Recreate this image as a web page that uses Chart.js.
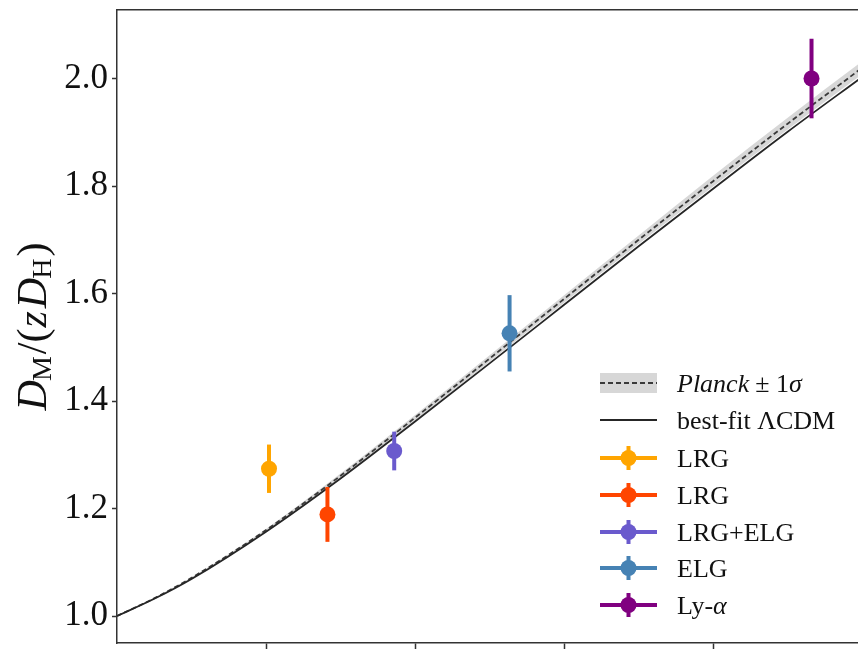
<!DOCTYPE html>
<html>
<head>
<meta charset="utf-8">
<script src="https://cdn.jsdelivr.net/npm/chart.js@4.4.1/dist/chart.umd.min.js"></script>
<style>
  html, body { margin: 0; padding: 0; overflow: hidden; background: #fff; }
  #wrap { width: 900px; height: 658px; }
</style>
</head>
<body>
<div id="wrap"><canvas id="c" width="900" height="658"></canvas></div>
<script>
// model curves
const zGrid = [0, 0.125, 0.25, 0.5, 0.75, 1.0, 1.25, 1.5, 1.75, 2.0, 2.25, 2.5];
const planckMean = [1.000, 1.033, 1.071, 1.160, 1.261, 1.369, 1.479, 1.590, 1.700, 1.809, 1.916, 2.020];
const planckLow  = [1.000, 1.032, 1.070, 1.158, 1.257, 1.364, 1.473, 1.583, 1.692, 1.799, 1.905, 2.008];
const planckHigh = [1.000, 1.034, 1.072, 1.162, 1.265, 1.374, 1.485, 1.597, 1.708, 1.819, 1.927, 2.032];
const bestFit    = [1.000, 1.032, 1.069, 1.157, 1.256, 1.362, 1.470, 1.579, 1.688, 1.795, 1.901, 2.003];

// measurements
const sampleNames  = ['LRG', 'LRG', 'LRG+ELG', 'ELG', 'Ly-α'];
const sampleZ      = [0.51, 0.706, 0.93, 1.317, 2.33];
const sampleVal    = [1.274, 1.189, 1.307, 1.526, 2.000];
const sampleErr    = [0.045, 0.051, 0.036, 0.071, 0.074];
const sampleColors = ['#FFA500', '#FF4500', '#6A5ACD', '#4682B4', '#800080'];

const yTicks = [1.0, 1.2, 1.4, 1.6, 1.8, 2.0];
const xTicks = [0.5, 1.0, 1.5, 2.0];

const FONT = "'Liberation Serif', 'DejaVu Serif', serif";
const AXIS = '#333';

function curve(vals) {
  return zGrid.map((z, i) => ({ x: z, y: vals[i] }));
}

const datasets = [];

// markers on top, then error bars
datasets.push({
  type: 'scatter',
  data: sampleZ.map((z, i) => ({ x: z, y: sampleVal[i] })),
  pointRadius: 8,
  pointHoverRadius: 8,
  pointBackgroundColor: sampleColors,
  pointBorderWidth: 0,
  showLine: false
});
sampleZ.forEach((z, i) => {
  datasets.push({
    type: 'line',
    data: [{ x: z, y: sampleVal[i] - sampleErr[i] }, { x: z, y: sampleVal[i] + sampleErr[i] }],
    borderColor: sampleColors[i],
    borderWidth: 4,
    pointRadius: 0,
    borderCapStyle: 'butt',
    fill: false
  });
});

const curveStyle = { pointRadius: 0, cubicInterpolationMode: 'monotone', fill: false };
datasets.push(Object.assign({
  type: 'line',
  data: curve(bestFit),
  borderColor: '#262626',
  borderWidth: 1.8
}, curveStyle));
datasets.push(Object.assign({
  type: 'line',
  data: curve(planckMean),
  borderColor: '#3a3a3a',
  borderWidth: 1.8,
  borderDash: [5, 3]
}, curveStyle));
datasets.push(Object.assign({
  type: 'line',
  data: curve(planckLow),
  borderWidth: 0,
  borderColor: 'rgba(0,0,0,0)'
}, curveStyle));
datasets.push(Object.assign({}, curveStyle, {
  type: 'line',
  data: curve(planckHigh),
  borderWidth: 0,
  borderColor: 'rgba(0,0,0,0)',
  backgroundColor: 'rgba(150,150,150,0.38)',
  fill: '-1'
}));

// draw pieces of text with mixed styles, returns total width
function drawRuns(ctx, runs, x, y, measureOnly) {
  let w = 0;
  runs.forEach(r => {
    ctx.font = (r.italic ? 'italic ' : '') + r.size + 'px ' + FONT;
    if (!measureOnly) ctx.fillText(r.t, x + w, y + (r.dy || 0));
    w += ctx.measureText(r.t).width + (r.gap || 0);
  });
  return w;
}

const decorations = {
  id: 'decorations',
  afterDraw(chart) {
    const ctx = chart.ctx;
    ctx.save();
    ctx.fillStyle = '#111';
    ctx.textBaseline = 'alphabetic';
    ctx.textAlign = 'left';

    // y axis title
    const a = chart.chartArea;
    const S = 42, s = 28;
    const title = [
      { t: 'D', italic: true, size: S, gap: -1 },
      { t: 'M', size: s, dy: 5, gap: 2 },
      { t: '/(', size: S, gap: 1 },
      { t: 'z', italic: true, size: S, gap: 3 },
      { t: 'D', italic: true, size: S, gap: -1 },
      { t: 'H', size: s, dy: 5, gap: 2 },
      { t: ')', size: S }
    ];
    ctx.save();
    ctx.translate(46, (a.top + a.bottom) / 2);
    ctx.rotate(-Math.PI / 2);
    const tw = drawRuns(ctx, title, 0, 0, true);
    drawRuns(ctx, title, -tw / 2, 0, false);
    ctx.restore();

    // legend
    const hx0 = 600, hx1 = 657, tx = 677, fs = 26;
    const rows = [383, 420, 458, 495, 532, 568, 605];
    // Planck band
    ctx.fillStyle = 'rgba(150,150,150,0.38)';
    ctx.fillRect(hx0, rows[0] - 10, hx1 - hx0, 20);
    ctx.strokeStyle = '#3a3a3a';
    ctx.lineWidth = 2;
    ctx.setLineDash([5, 3]);
    ctx.beginPath(); ctx.moveTo(hx0, rows[0]); ctx.lineTo(hx1, rows[0]); ctx.stroke();
    ctx.setLineDash([]);
    ctx.strokeStyle = '#262626';
    ctx.beginPath(); ctx.moveTo(hx0, rows[1]); ctx.lineTo(hx1, rows[1]); ctx.stroke();

    ctx.fillStyle = '#111';
    drawRuns(ctx, [
      { t: 'Planck', italic: true, size: fs, gap: 6 },
      { t: '± 1', size: fs },
      { t: 'σ', italic: true, size: fs }
    ], tx, rows[0] + 9);
    drawRuns(ctx, [{ t: 'best-fit ΛCDM', size: fs }], tx, rows[1] + 9);

    const mx = (hx0 + hx1) / 2;
    sampleNames.forEach((name, i) => {
      const cy = rows[i + 2];
      ctx.strokeStyle = sampleColors[i];
      ctx.fillStyle = sampleColors[i];
      ctx.lineWidth = 4;
      ctx.beginPath();
      ctx.moveTo(hx0, cy); ctx.lineTo(hx1, cy);
      ctx.moveTo(mx, cy - 12); ctx.lineTo(mx, cy + 12);
      ctx.stroke();
      ctx.beginPath(); ctx.arc(mx, cy, 8, 0, Math.PI * 2); ctx.fill();
      ctx.fillStyle = '#111';
      let runs;
      if (name === 'Ly-α') runs = [{ t: 'Ly-', size: fs }, { t: 'α', italic: true, size: fs }];
      else runs = [{ t: name, size: fs }];
      drawRuns(ctx, runs, tx, cy + 9);
    });
    ctx.restore();
  }
};

function noPad(ax) {
  ax.paddingTop = 0;
  ax.paddingBottom = 0;
  ax.paddingLeft = 0;
  ax.paddingRight = 0;
}

new Chart(document.getElementById('c'), {
  type: 'line',
  data: { datasets },
  options: {
    responsive: false,
    animation: false,
    events: [],
    layout: { padding: { top: 10, right: 0, bottom: 0, left: 0 } },
    plugins: { legend: { display: false }, tooltip: { enabled: false } },
    scales: {
      x: {
        type: 'linear',
        min: 0,
        max: 2.6,
        afterBuildTicks: ax => { ax.ticks = xTicks.map(v => ({ value: v })); },
        afterFit: ax => { ax.height = 15; noPad(ax); },
        ticks: { display: false },
        grid: { drawOnChartArea: false, drawTicks: true, tickLength: 6, tickColor: AXIS, tickWidth: 1.5 },
        border: { display: true, color: AXIS, width: 1.5 }
      },
      xTop: {
        type: 'linear',
        position: 'top',
        min: 0,
        max: 2.6,
        afterFit: ax => { ax.height = 0; noPad(ax); },
        ticks: { display: false },
        grid: { display: false, drawTicks: false },
        border: { display: true, color: AXIS, width: 1.5 }
      },
      y: {
        type: 'linear',
        min: 0.9498,
        max: 2.1275,
        afterBuildTicks: ax => { ax.ticks = yTicks.map(v => ({ value: v })); },
        afterFit: ax => { ax.width = 117; noPad(ax); },
        ticks: {
          color: '#111',
          padding: 4,
          font: { family: FONT, size: 35 },
          callback: v => v.toFixed(1)
        },
        grid: { drawOnChartArea: false, drawTicks: true, tickLength: 5, tickColor: AXIS, tickWidth: 1.5 },
        border: { display: true, color: AXIS, width: 1.5 }
      }
    }
  },
  plugins: [decorations]
});
</script>
</body>
</html>
